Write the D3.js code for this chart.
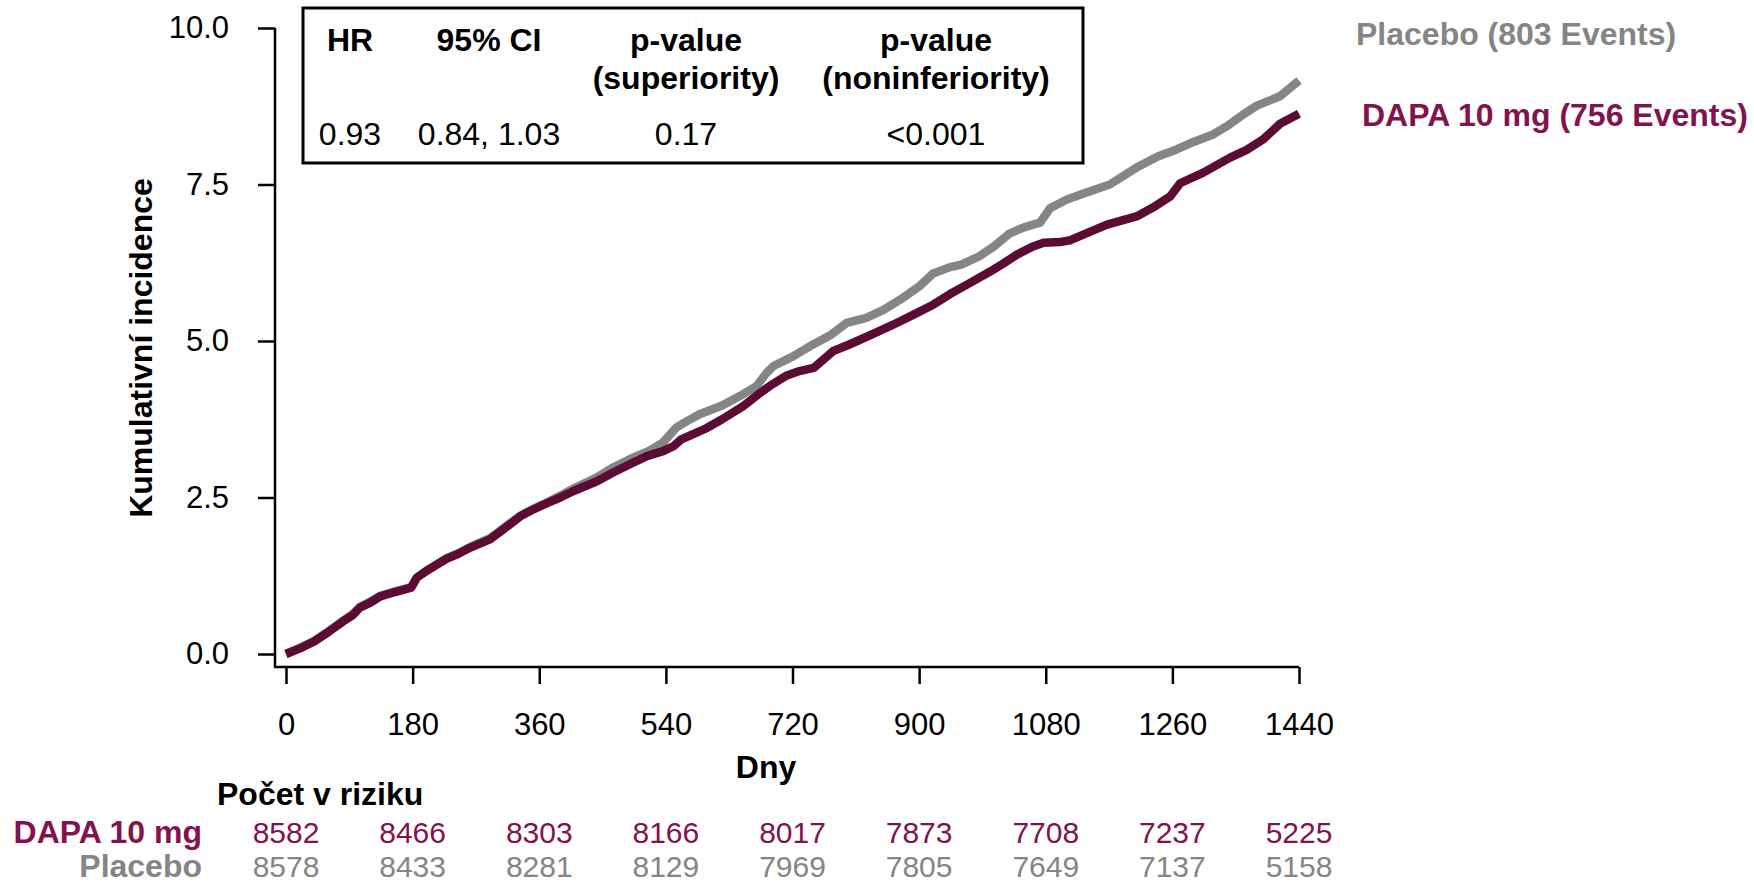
<!DOCTYPE html>
<html>
<head>
<meta charset="utf-8">
<script src="https://cdn.jsdelivr.net/npm/d3@7"></script>
<style>
  html, body { margin: 0; padding: 0; background: #ffffff; }
  svg { display: block; font-family: "Liberation Sans", Arial, sans-serif; }
</style>
</head>
<body>
<svg id="chart" width="1754" height="884"></svg>
<script>
// ---------- data ----------
const xTicks = [0, 180, 360, 540, 720, 900, 1080, 1260, 1440];
const yTicks = [0, 2.5, 5, 7.5, 10];

const dapaDays = [0,20,40,60,81,95,105,120,134,155,178,186,200,228,245,262,290,310,333,350,371,390,408,442,465,494,513,536,551,562,598,620,650,674,690,712,730,750,778,800,816,840,863,890,920,944,968,1001,1020,1039,1060,1077,1100,1115,1140,1167,1209,1235,1257,1271,1304,1342,1365,1389,1413,1440];
const dapaPct  = [0,0.09,0.2,0.35,0.52,0.62,0.74,0.82,0.92,0.99,1.06,1.22,1.33,1.52,1.6,1.7,1.83,2.0,2.2,2.3,2.41,2.5,2.6,2.76,2.9,3.06,3.16,3.24,3.32,3.43,3.61,3.75,3.96,4.17,4.3,4.45,4.52,4.57,4.84,4.94,5.02,5.14,5.26,5.41,5.58,5.75,5.9,6.11,6.24,6.38,6.5,6.57,6.58,6.61,6.73,6.86,6.99,7.15,7.31,7.52,7.69,7.93,8.05,8.22,8.47,8.63];

const placeboDays = [0,20,40,60,81,95,105,120,134,155,178,186,200,228,245,262,290,310,333,350,371,390,408,442,465,490,517,536,555,570,588,620,645,669,683,693,720,750,775,797,825,850,873,901,920,944,960,985,1005,1029,1050,1072,1086,1110,1140,1171,1209,1240,1266,1290,1318,1340,1361,1380,1413,1440];
const placeboPct  = [0,0.1,0.21,0.36,0.53,0.64,0.75,0.84,0.93,1.0,1.07,1.22,1.33,1.53,1.61,1.71,1.85,2.02,2.21,2.31,2.42,2.53,2.64,2.82,2.98,3.12,3.25,3.38,3.62,3.72,3.83,3.97,4.12,4.28,4.49,4.6,4.75,4.95,5.1,5.29,5.37,5.5,5.66,5.88,6.08,6.18,6.22,6.35,6.5,6.72,6.82,6.89,7.12,7.26,7.38,7.5,7.77,7.95,8.06,8.18,8.3,8.45,8.62,8.76,8.91,9.16];

const riskDapa    = [8582, 8466, 8303, 8166, 8017, 7873, 7708, 7237, 5225];
const riskPlacebo = [8578, 8433, 8281, 8129, 7969, 7805, 7649, 7137, 5158];

const statHeaders1 = ["HR", "95% CI", "p-value", "p-value"];
const statHeaders2 = ["", "", "(superiority)", "(noninferiority)"];
const statValues   = ["0.93", "0.84, 1.03", "0.17", "<0.001"];

const colDapaLine = "#5c0b34";
const colDapaText = "#83134d";
const colPlacLine = "#858585";
const colPlacText = "#858585";

// ---------- layout ----------
const svg = d3.select("#chart");
const x = d3.scaleLinear().domain([0, 1440]).range([286, 1299]);
const y = d3.scaleLinear().domain([0, 10]).range([654, 28]);
const axisX0 = 275, axisY0 = 667;

// axis lines (L shape)
svg.append("path")
  .attr("d", `M${axisX0},${y(10)}V${axisY0}H${x(1440)}`)
  .attr("fill", "none").attr("stroke", "#000").attr("stroke-width", 2.5);

// y axis
const gy = svg.append("g").attr("transform", `translate(${axisX0},0)`)
  .call(d3.axisLeft(y).tickValues(yTicks).tickFormat(d3.format(".1f")).tickSize(17).tickPadding(29));
gy.select(".domain").remove();
gy.selectAll(".tick line").attr("stroke", "#000").attr("stroke-width", 2.5);
gy.selectAll(".tick text").attr("font-size", 31).attr("fill", "#000")
  .attr("font-family", "Liberation Sans, Arial, sans-serif");

// x axis
const gx = svg.append("g").attr("transform", `translate(0,${axisY0})`)
  .call(d3.axisBottom(x).tickValues(xTicks).tickFormat(d3.format("d")).tickSize(17).tickPadding(29));
gx.select(".domain").remove();
gx.selectAll(".tick line").attr("stroke", "#000").attr("stroke-width", 2.5);
gx.selectAll(".tick text").attr("font-size", 31).attr("fill", "#000")
  .attr("font-family", "Liberation Sans, Arial, sans-serif");

// axis titles
svg.append("text").attr("transform", "translate(152,348) rotate(-90)")
  .attr("text-anchor", "middle").attr("font-weight", "bold").attr("font-size", 32)
  .text("Kumulativní incidence");
svg.append("text").attr("x", 766).attr("y", 778)
  .attr("text-anchor", "middle").attr("font-weight", "bold").attr("font-size", 32)
  .text("Dny");

// curves
const line = d3.line().x(d => x(d[0])).y(d => y(d[1])).curve(d3.curveLinear);
const placeboPts = placeboDays.map((d, i) => [d, placeboPct[i]]);
const dapaPts = dapaDays.map((d, i) => [d, dapaPct[i]]);
svg.append("path").datum(placeboPts).attr("d", line)
  .attr("fill", "none").attr("stroke", colPlacLine).attr("stroke-width", 8.5)
  .attr("stroke-linejoin", "round");
svg.append("path").datum(dapaPts).attr("d", line)
  .attr("fill", "none").attr("stroke", colDapaLine).attr("stroke-width", 8.5)
  .attr("stroke-linejoin", "round");

// legend labels
svg.append("text").attr("x", 1356).attr("y", 45)
  .attr("font-weight", "bold").attr("font-size", 32).attr("fill", colPlacText)
  .text("Placebo (803 Events)");
svg.append("text").attr("x", 1362).attr("y", 126)
  .attr("font-weight", "bold").attr("font-size", 32).attr("fill", colDapaText)
  .text("DAPA 10 mg (756 Events)");

// stats box
svg.append("rect").attr("x", 303).attr("y", 8).attr("width", 780).attr("height", 155)
  .attr("fill", "#fff").attr("stroke", "#000").attr("stroke-width", 3);
const colX = [350, 489, 686, 936];
const boxG = svg.append("g").attr("font-size", 32).attr("text-anchor", "middle");
boxG.selectAll("text.h1").data(statHeaders1).join("text").attr("class", "h1")
  .attr("x", (d, i) => colX[i]).attr("y", 51).attr("font-weight", "bold").text(d => d);
boxG.selectAll("text.h2").data(statHeaders2).join("text").attr("class", "h2")
  .attr("x", (d, i) => colX[i]).attr("y", 89).attr("font-weight", "bold").text(d => d);
boxG.selectAll("text.v").data(statValues).join("text").attr("class", "v")
  .attr("x", (d, i) => colX[i]).attr("y", 145).text(d => d);

// numbers at risk
svg.append("text").attr("x", 217).attr("y", 805)
  .attr("font-weight", "bold").attr("font-size", 32).text("Počet v riziku");
svg.append("text").attr("x", 202).attr("y", 843).attr("text-anchor", "end")
  .attr("font-weight", "bold").attr("font-size", 32).attr("fill", colDapaText).text("DAPA 10 mg");
svg.append("text").attr("x", 202).attr("y", 877).attr("text-anchor", "end")
  .attr("font-weight", "bold").attr("font-size", 32).attr("fill", colPlacText).text("Placebo");
svg.append("g").selectAll("text").data(riskDapa).join("text")
  .attr("x", (d, i) => x(xTicks[i])).attr("y", 843).attr("text-anchor", "middle")
  .attr("font-size", 30).attr("fill", colDapaText).text(d => d);
svg.append("g").selectAll("text").data(riskPlacebo).join("text")
  .attr("x", (d, i) => x(xTicks[i])).attr("y", 877).attr("text-anchor", "middle")
  .attr("font-size", 30).attr("fill", colPlacText).text(d => d);
</script>
</body>
</html>
